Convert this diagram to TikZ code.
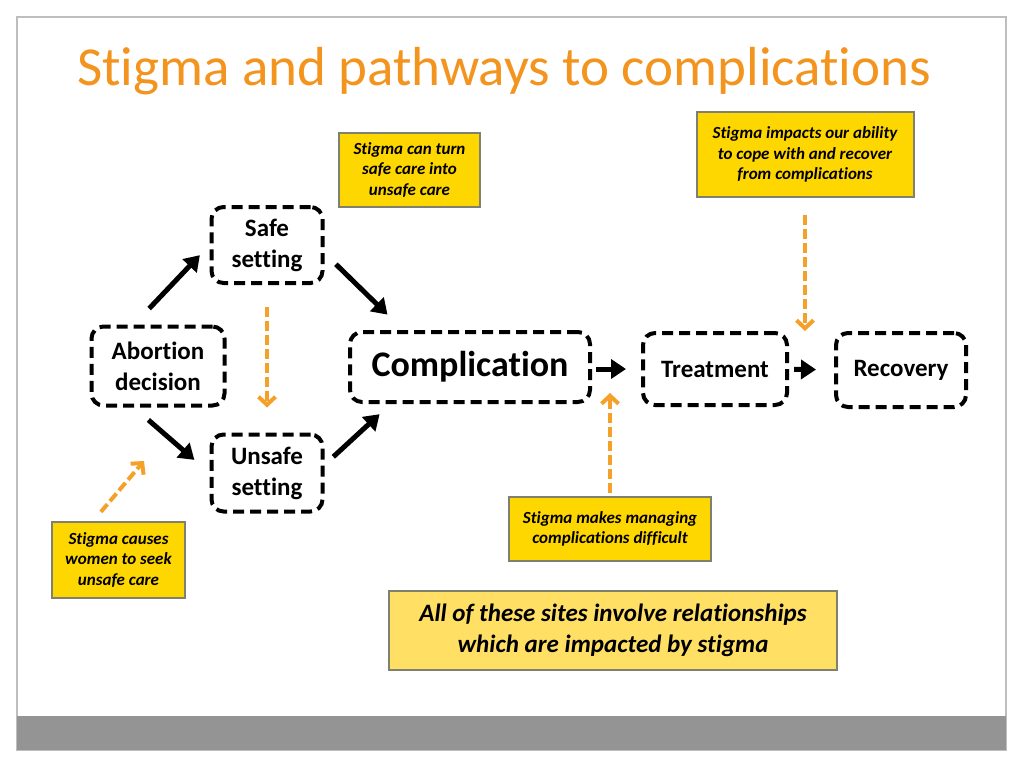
\documentclass[tikz,border=0pt]{standalone}
\usepackage{fontspec}
\setmainfont{Carlito}[RawFeature={-liga;-clig;-dlig}]
\usepackage{tikz}
\usetikzlibrary{arrows.meta,positioning}
\definecolor{titleorange}{RGB}{243,148,30}
\definecolor{stigmaorange}{RGB}{245,160,40}
\definecolor{noteyellow}{RGB}{255,215,0}
\definecolor{paleyellow}{RGB}{255,224,100}
\definecolor{noteborder}{RGB}{128,128,110}
\definecolor{framegray}{RGB}{190,190,190}
\definecolor{bargray}{RGB}{148,148,148}

\begin{document}
\begin{tikzpicture}[
  x=1pt, y=-1pt,
  site/.style={rectangle, rounded corners=12pt, draw=black, line width=4pt, dash pattern=on 11pt off 6pt, inner sep=0pt, align=center, font=\fontsize{25}{31}\selectfont\bfseries},
  note/.style={rectangle, draw=noteborder, line width=2pt, fill=noteyellow, inner sep=0pt, align=center, font=\fontsize{17}{20.5}\selectfont\bfseries\itshape},
  arrow/.style={-{Triangle[length=15pt,width=19pt]}, line width=5pt},
  stigmaarrow/.style={-{Straight Barb[length=8pt,width=17pt]}, line width=4pt, draw=stigmaorange, dash pattern=on 10pt off 4pt}
]
  % slide background and frame
  \fill[white] (0,0) rectangle (1024,768);
  \useasboundingbox (0,0) rectangle (1024,768);
  \draw[framegray, line width=1.5pt] (17,17) rectangle (1006,750);
  \fill[bargray] (17,716) rectangle (1006,750);

  \node[anchor=base west, inner sep=0pt, text=titleorange, font=\fontsize{55}{60}\selectfont] (title) at (77,85) {Stigma and pathways to complications};

  % care pathway
  \node[site, minimum width=133pt, minimum height=79pt] (abort) at (158,366) {Abortion\\decision};
  \node[site, minimum width=111pt, minimum height=76pt] (safe) at (267,245) {Safe\\setting};
  \node[site, minimum width=111pt, minimum height=77pt] (unsafe) at (267,473) {Unsafe\\setting};
  \node[site, minimum width=240pt, minimum height=70pt, font=\fontsize{36}{40}\selectfont\bfseries] (comp) at (470,367) {Complication};
  \node[site, minimum width=144pt, minimum height=72pt] (treat) at (715,369) {Treatment};
  \node[site, minimum width=130pt, minimum height=74pt] (recov) at (901,370) {Recovery};

  % stigma notes
  \node[note, minimum width=141pt, minimum height=74pt] (turn) at (409.5,170) {Stigma can turn\\safe care into\\unsafe care};
  \node[note, minimum width=217pt, minimum height=85pt] (impact) at (805,154.5) {Stigma impacts our ability\\to cope with and recover\\from complications};
  \node[note, minimum width=202pt, minimum height=64pt] (managing) at (610,529) {Stigma makes managing\\complications difficult};
  \node[note, minimum width=133pt, minimum height=76pt] (causes) at (118.5,560) {Stigma causes\\women to seek\\unsafe care};
  \node[note, fill=paleyellow, minimum width=448pt, minimum height=79pt, font=\fontsize{25}{31}\selectfont\bfseries\itshape] (summary) at (613,630.5) {All of these sites involve relationships\\which are impacted by stigma};

  \coordinate (copetip) at (805,331);
  \coordinate (managetip) at (610,393);
  \coordinate (seektip) at (144,461);

  \draw[arrow, shorten <=22pt, shorten >=14pt] (abort.120) -- (safe.west);
  \draw[arrow, shorten <=16pt, shorten >=22pt] (safe.-8) -- (comp.151);
  \draw[arrow, shorten <=19pt, shorten >=20pt] (abort.240) -- (unsafe.west);
  \draw[arrow, shorten <=12pt, shorten >=15pt] (unsafe.8) -- (comp.205);
  \draw[arrow, shorten <=4pt, shorten >=15pt] (comp.east|-treat) -- (treat);
  \draw[arrow, shorten <=5pt, shorten >=18pt] (treat) -- (recov);

  \draw[stigmaarrow, shorten <=22pt, shorten >=25pt] (safe.south) -- (unsafe.north);
  \draw[stigmaarrow, shorten <=17pt] (impact.south) -- (copetip);
  \draw[stigmaarrow, shorten <=3pt] (managing.north) -- (managetip);
  \draw[stigmaarrow, shorten <=12pt] (causes.123) -- (seektip);
\end{tikzpicture}
\end{document}
